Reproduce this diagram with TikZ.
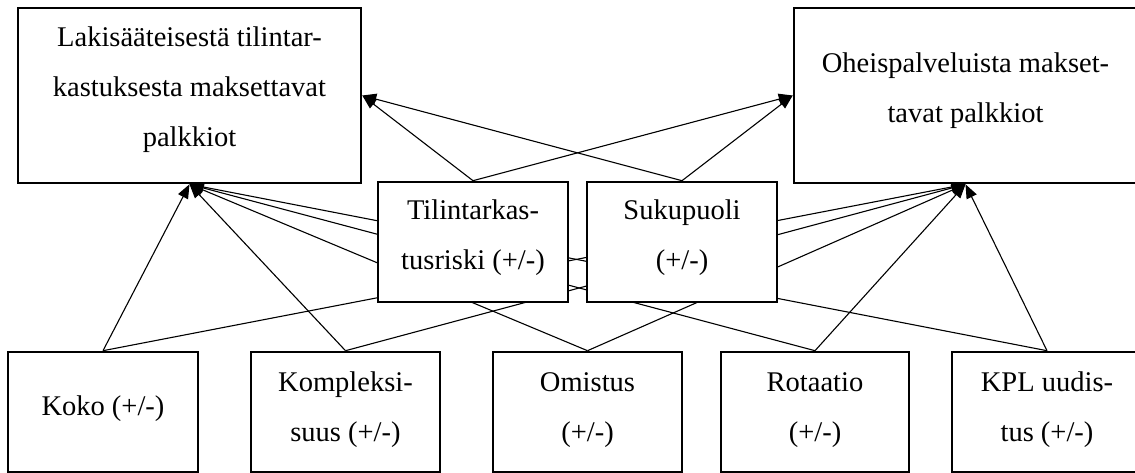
\documentclass[tikz,border=0pt]{standalone}
\usepackage{fontspec}
\setmainfont{Liberation Serif}
\usetikzlibrary{arrows.meta}
\pgfdeclarelayer{links}
\pgfsetlayers{links,main}
% centred lines whose reference point is the first baseline
\newcommand\stacklines[1]{\begin{tabular}[t]{@{}c@{}}#1\end{tabular}}

\begin{document}
\begin{tikzpicture}[x=1pt,y=-1pt,
  box/.style={draw, line width=2.6pt, fill=white, inner sep=0pt,
              minimum width=190pt, minimum height=120pt},
  bigbox/.style={box, minimum width=343pt, minimum height=175pt},
  txt/.style={inner sep=0pt, anchor=base, font=\fontsize{28.5}{50}\selectfont},
  link/.style={line width=1.1pt, -{Triangle[length=14pt,width=11pt]}}]

\useasboundingbox (0,0) rectangle (1135,473);
\clip (0,0) rectangle (1135,473);

% outcome boxes
\node[bigbox] (tl) at (189.5,95.5) {};
\node[bigbox] (tr) at (965.5,95.5) {};

% moderating factors
\node[box] (risk)   at (473,242) {};
\node[box] (gender) at (682,242) {};

% explanatory factors
\node[box]                       (size)     at (103,412)   {};
\node[box, minimum width=189pt]  (complex)  at (345.5,412) {};
\node[box, minimum width=189pt]  (owner)    at (587.5,412) {};
\node[box, minimum width=188pt]  (rotation) at (815,412)   {};
\node[box]                       (kpl)      at (1047,412)  {};

% texts
\node[txt] (tl-t) at (189.5,47) {\stacklines{Lakisääteisestä tilintar-\\kastuksesta maksettavat\\palkkiot}};
\node[txt] (tr-t) at (965.5,73) {\stacklines{Oheispalveluista makset-\\tavat palkkiot}};
\node[txt] (risk-t)   at (473,220) {\stacklines{Tilintarkas-\\tusriski (+/-)}};
\node[txt] (gender-t) at (682,220) {\stacklines{Sukupuoli\\(+/-)}};
\node[txt] (size-t)     at (103,415)   {Koko (+/-)};
\node[txt] (complex-t)  at (345.5,391) {\stacklines{Kompleksi-\\suus (+/-)}};
\node[txt] (owner-t)    at (587.5,391) {\stacklines{Omistus\\(+/-)}};
\node[txt] (rotation-t) at (815,391)   {\stacklines{Rotaatio\\(+/-)}};
\node[txt] (kpl-t)      at (1047,391)  {\stacklines{KPL uudis-\\tus (+/-)}};

% connectors, running behind the boxes
\begin{pgfonlayer}{links}
  \foreach \s in {size,complex,owner,rotation,kpl} {
    \draw[link] (\s.north) -- (tl.south);
    \draw[link] (\s.north) -- (tr.south);
  }
  \foreach \s in {risk,gender} {
    \draw[link] (\s.north) -- (tl.east);
    \draw[link] (\s.north) -- (tr.west);
  }
\end{pgfonlayer}
\end{tikzpicture}
\end{document}
